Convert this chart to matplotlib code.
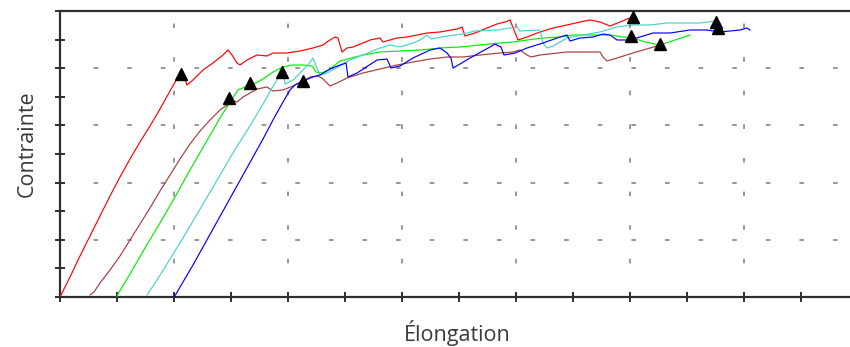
import matplotlib
matplotlib.use("Agg")
import matplotlib.pyplot as plt
from matplotlib.ticker import MultipleLocator

# Elongation (arbitrary units) and stress (arbitrary units) for five specimens
red_x = [0, 1.0, 2.0, 3.0, 4.0, 5.0, 6.0, 7.0, 8.0, 9.0, 10.0, 11.0, 11.8, 12.3, 12.7, 13.3, 14.3, 15.3, 16.3, 16.8, 17.2, 17.7, 18.0, 18.7, 19.7, 20.7, 21.3, 22.7, 24.0, 25.3, 26.3, 27.0, 27.5, 27.8, 28.2, 28.7, 29.3, 30.3, 31.0, 32.0, 32.3, 33.0, 33.7, 34.7, 35.7, 36.7, 38.0, 39.7, 40.2, 40.5, 41.5, 42.7, 43.7, 44.5, 45.0, 45.4, 45.8, 46.7, 48.0, 49.3, 50.7, 52.0, 53.0, 54.0, 55.0, 56.0, 57.2]
red_y = [0, 2.0, 4.1, 6.1, 8.1, 10.1, 12.0, 13.8, 15.5, 17.1, 18.8, 20.6, 22.0, 22.3, 21.2, 21.7, 22.7, 23.4, 24.2, 24.7, 24.2, 23.4, 23.2, 23.7, 24.2, 24.1, 24.4, 24.4, 24.6, 24.9, 25.2, 25.7, 26.0, 25.9, 24.5, 24.9, 25.0, 25.4, 25.7, 25.9, 25.5, 25.7, 25.9, 26.0, 26.2, 26.4, 26.5, 26.8, 27.0, 26.1, 26.4, 26.9, 27.3, 27.5, 27.7, 26.7, 25.7, 26.0, 26.5, 26.9, 27.2, 27.5, 27.7, 27.5, 27.1, 27.5, 28.0]

brown_x = [3.0, 3.4, 4.0, 5.0, 6.0, 7.0, 8.0, 9.0, 10.0, 11.0, 12.0, 13.0, 14.0, 15.0, 16.0, 16.7, 17.1, 17.7, 18.3, 19.0, 19.7, 20.7, 21.3, 22.3, 23.3, 24.3, 25.0, 25.7, 26.2, 27.0, 27.7, 28.7, 30.3, 32.0, 33.7, 35.3, 37.0, 38.7, 40.3, 42.0, 44.0, 45.3, 46.0, 46.7, 47.1, 48.0, 50.7, 54.0, 54.3, 54.7, 55.7, 57.3, 59.0, 60.0]
brown_y = [0.2, 0.5, 1.4, 2.7, 4.1, 5.7, 7.3, 8.9, 10.6, 12.2, 13.8, 15.3, 16.6, 17.7, 18.7, 19.2, 19.7, 19.5, 20.0, 20.4, 20.8, 21.0, 20.6, 20.7, 21.1, 21.6, 22.0, 22.1, 21.9, 21.1, 21.4, 21.9, 22.4, 22.8, 23.2, 23.5, 23.8, 24.0, 24.0, 24.2, 24.4, 24.5, 24.7, 24.2, 24.0, 24.2, 24.5, 24.5, 24.0, 23.6, 23.9, 24.4, 24.9, 25.2]

green_x = [5.7, 5.8, 7.0, 8.5, 10.0, 11.5, 13.0, 14.5, 16.0, 17.2, 17.8, 18.5, 19.2, 20.3, 21.3, 22.3, 23.3, 24.3, 25.2, 25.6, 26.2, 27.0, 28.0, 30.3, 32.0, 34.0, 36.0, 38.0, 40.0, 42.0, 44.0, 45.3, 46.7, 48.3, 50.0, 51.3, 53.3, 55.0, 56.3, 57.3, 58.5, 60.0, 61.5, 63.0]
green_y = [0, 0.3, 2.3, 4.9, 7.4, 10.0, 12.7, 15.3, 17.9, 19.8, 20.7, 21.0, 21.2, 21.8, 22.5, 23.0, 23.2, 23.2, 23.1, 22.5, 22.4, 22.8, 23.6, 24.2, 24.5, 24.6, 24.7, 24.9, 25.0, 25.2, 25.4, 25.5, 25.7, 25.9, 26.0, 26.2, 26.2, 26.2, 26.0, 25.9, 25.5, 25.2, 25.7, 26.2]

cyan_x = [8.7, 9.7, 11.0, 12.3, 13.3, 14.3, 15.3, 16.3, 17.3, 18.3, 19.3, 20.3, 21.2, 21.8, 22.3, 22.5, 23.3, 24.3, 24.8, 25.3, 25.7, 26.0, 26.7, 28.0, 29.0, 30.3, 32.0, 33.0, 34.0, 35.3, 36.0, 36.7, 37.1, 38.7, 40.3, 41.5, 43.7, 45.0, 45.7, 46.0, 48.0, 48.3, 48.7, 49.3, 50.7, 52.3, 54.0, 55.7, 57.3, 59.0, 60.7, 62.0, 64.0, 65.6]
cyan_y = [0.2, 1.7, 3.8, 5.9, 7.6, 9.3, 11.0, 12.7, 14.4, 16.0, 17.6, 19.3, 20.9, 21.9, 22.7, 21.3, 21.7, 22.7, 23.2, 23.9, 22.9, 22.2, 22.4, 23.1, 23.7, 24.2, 24.9, 25.2, 25.0, 25.4, 25.7, 26.2, 25.8, 26.1, 26.3, 26.6, 26.7, 26.9, 27.0, 26.6, 26.7, 25.4, 24.9, 25.1, 25.9, 26.2, 26.5, 27.0, 27.2, 27.2, 27.4, 27.4, 27.4, 27.6]

blue_x = [11.4, 11.6, 12.3, 13.3, 14.3, 15.3, 16.3, 17.3, 18.3, 19.3, 20.3, 21.3, 22.3, 23.0, 23.5, 24.3, 25.3, 26.0, 27.0, 28.0, 28.6, 28.8, 29.7, 31.7, 32.7, 33.1, 34.0, 35.3, 37.0, 38.0, 38.7, 39.1, 39.3, 40.0, 41.0, 43.0, 43.5, 44.1, 44.4, 45.5, 46.7, 48.3, 50.0, 50.7, 51.0, 52.0, 53.3, 54.3, 55.0, 55.7, 57.0, 58.0, 59.3, 61.0, 63.0, 64.7, 66.0, 68.0, 68.7, 69.0]
blue_y = [0, 0.3, 1.5, 3.2, 5.0, 6.8, 8.6, 10.4, 12.2, 14.0, 15.8, 17.7, 19.5, 20.7, 21.2, 21.6, 22.0, 22.2, 22.8, 23.2, 23.4, 22.0, 22.4, 23.7, 23.8, 22.9, 23.1, 23.9, 24.7, 24.9, 24.4, 23.9, 22.9, 23.3, 23.9, 25.0, 25.3, 25.0, 24.2, 24.4, 24.9, 25.4, 26.0, 26.2, 25.6, 25.9, 26.0, 26.3, 26.2, 25.7, 25.7, 26.0, 26.4, 26.4, 26.7, 26.7, 26.5, 26.7, 26.9, 26.7]

# Marked points (triangles)
marker_x = [12.1, 57.3, 16.9, 60.0, 19.0, 57.1, 22.2, 65.6, 24.3, 65.8]
marker_y = [22.3, 28.0, 19.9, 25.3, 21.4, 26.1, 22.5, 27.5, 21.6, 26.9]

series = [
    (red_x, red_y, "#ff0000"),
    (brown_x, brown_y, "#a83c3c"),
    (green_x, green_y, "#00ee00"),
    (cyan_x, cyan_y, "#48d1cc"),
    (blue_x, blue_y, "#0000ff"),
]

x_label = "Élongation"
y_label = "Contrainte"

fig = plt.figure(figsize=(8.5, 3.47), dpi=100)
ax = fig.add_axes([60 / 850, 50 / 347, 790 / 850, 286 / 347])

for xs, ys, c in series:
    ax.plot(xs, ys, color=c, linewidth=0.85, zorder=3)

ax.plot(marker_x, marker_y, linestyle="none", marker="^", color="black",
        markersize=8.5, zorder=4)

ax.set_xlim(0, 79)
ax.set_ylim(0, 28.6)

ax.xaxis.set_major_locator(MultipleLocator(11.4))
ax.xaxis.set_minor_locator(MultipleLocator(5.7))
ax.yaxis.set_major_locator(MultipleLocator(5.72))
ax.yaxis.set_minor_locator(MultipleLocator(2.86))

ax.grid(True, which="major", color="#7a7a7a", linewidth=1.1,
        linestyle=(0, (3, 19)))
ax.set_axisbelow(True)

for side in ["left", "bottom", "top"]:
    ax.spines[side].set_color("#2e2e2e")
    ax.spines[side].set_linewidth(1.6)
ax.spines["right"].set_visible(False)

ax.tick_params(which="both", direction="inout", length=7, width=1.4,
               color="#2e2e2e", labelbottom=False, labelleft=False)

fig.text(457 / 850, 1 - 333 / 347, x_label, ha="center", va="center",
         fontsize=15.5, color="#3a3a3a", family="Open Sans")
fig.text(27 / 850, 1 - 144 / 347, y_label, ha="center", va="center",
         rotation=90, fontsize=15.5, color="#3a3a3a", family="Open Sans")

fig.savefig("out.png", dpi=100)
